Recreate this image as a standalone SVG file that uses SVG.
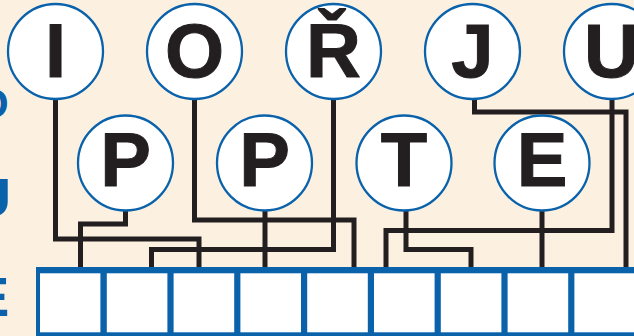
<svg xmlns="http://www.w3.org/2000/svg" width="634" height="336" viewBox="0 0 634 336">
<style>
.bg{fill:#FCF0E1}
.node circle{fill:#FFFFFF;stroke:#0A62AB;stroke-width:2.3}
.node text{font-family:"Liberation Sans",Arial,sans-serif;font-weight:bold;font-size:76px;fill:#231F20;text-anchor:middle;stroke:#231F20;stroke-width:1}
.conn path{fill:none;stroke:#231F20;stroke-width:5;stroke-linejoin:miter;stroke-linecap:butt}
.side{font-family:"Liberation Sans",Arial,sans-serif;font-weight:bold;fill:#0A62AB}
.cell{fill:#FFFFFF}
</style>
<rect class="bg" x="0" y="0" width="634" height="336"/>
<g id="side-letters">
<text class="side" x="-24" y="117.5" font-size="42">O</text>
<text class="side" x="-28" y="216" font-size="54">U</text>
<text class="side" x="-28" y="316" font-size="56">E</text>
</g>
<g id="connectors" class="conn">
<path d="M55.5,52 V239 H199 V268"/>
<path d="M194.5,52 V220 H354 V268"/>
<path d="M333.5,52 V249.5 H151.5 V268"/>
<path d="M474.5,52 V112 H626 V268"/>
<path d="M612,52 V230.5 H386 V268"/>
<path d="M125.5,163 V224 H80.5 V268"/>
<path d="M265,163 V268"/>
<path d="M406,163 V249.5 H471 V268"/>
<path d="M542,163 V268"/>
</g>
<g id="boxes">
<rect x="36" y="267" width="610" height="69" fill="#0A62AB"/>
<rect class="cell" x="40" y="273.3" width="60.4" height="59"/>
<rect class="cell" x="106.8" y="273.3" width="60.6" height="59"/>
<rect class="cell" x="173.6" y="273.3" width="60.6" height="59"/>
<rect class="cell" x="240.4" y="273.3" width="60.6" height="59"/>
<rect class="cell" x="307.2" y="273.3" width="60.6" height="59"/>
<rect class="cell" x="374" y="273.3" width="60.6" height="59"/>
<rect class="cell" x="440.8" y="273.3" width="60.6" height="59"/>
<rect class="cell" x="507.6" y="273.3" width="60.6" height="59"/>
<rect class="cell" x="574.4" y="273.3" width="70" height="59"/>
</g>
<g id="node-I" class="node"><circle cx="55.5" cy="51.5" r="47.5"/><text x="55.5" y="77">I</text></g>
<g id="node-O" class="node"><circle cx="194.5" cy="51.5" r="47.5"/><text x="194.5" y="77">O</text></g>
<g id="node-R" class="node"><circle cx="333.5" cy="51.5" r="47.5"/><text x="333.5" y="77">Ř</text></g>
<g id="node-J" class="node"><circle cx="472.5" cy="51.5" r="47.5"/><text x="472.5" y="77">J</text></g>
<g id="node-U" class="node"><circle cx="611.5" cy="51.5" r="47.5"/><text x="611.5" y="77">U</text></g>
<g id="node-P1" class="node"><circle cx="125.5" cy="163" r="47.5"/><text x="125.5" y="186">P</text></g>
<g id="node-P2" class="node"><circle cx="264.5" cy="163" r="47.5"/><text x="264.5" y="186">P</text></g>
<g id="node-T" class="node"><circle cx="404" cy="163" r="47.5"/><text x="404" y="186">T</text></g>
<g id="node-E" class="node"><circle cx="542" cy="163" r="47.5"/><text x="542" y="186">E</text></g>
</svg>
